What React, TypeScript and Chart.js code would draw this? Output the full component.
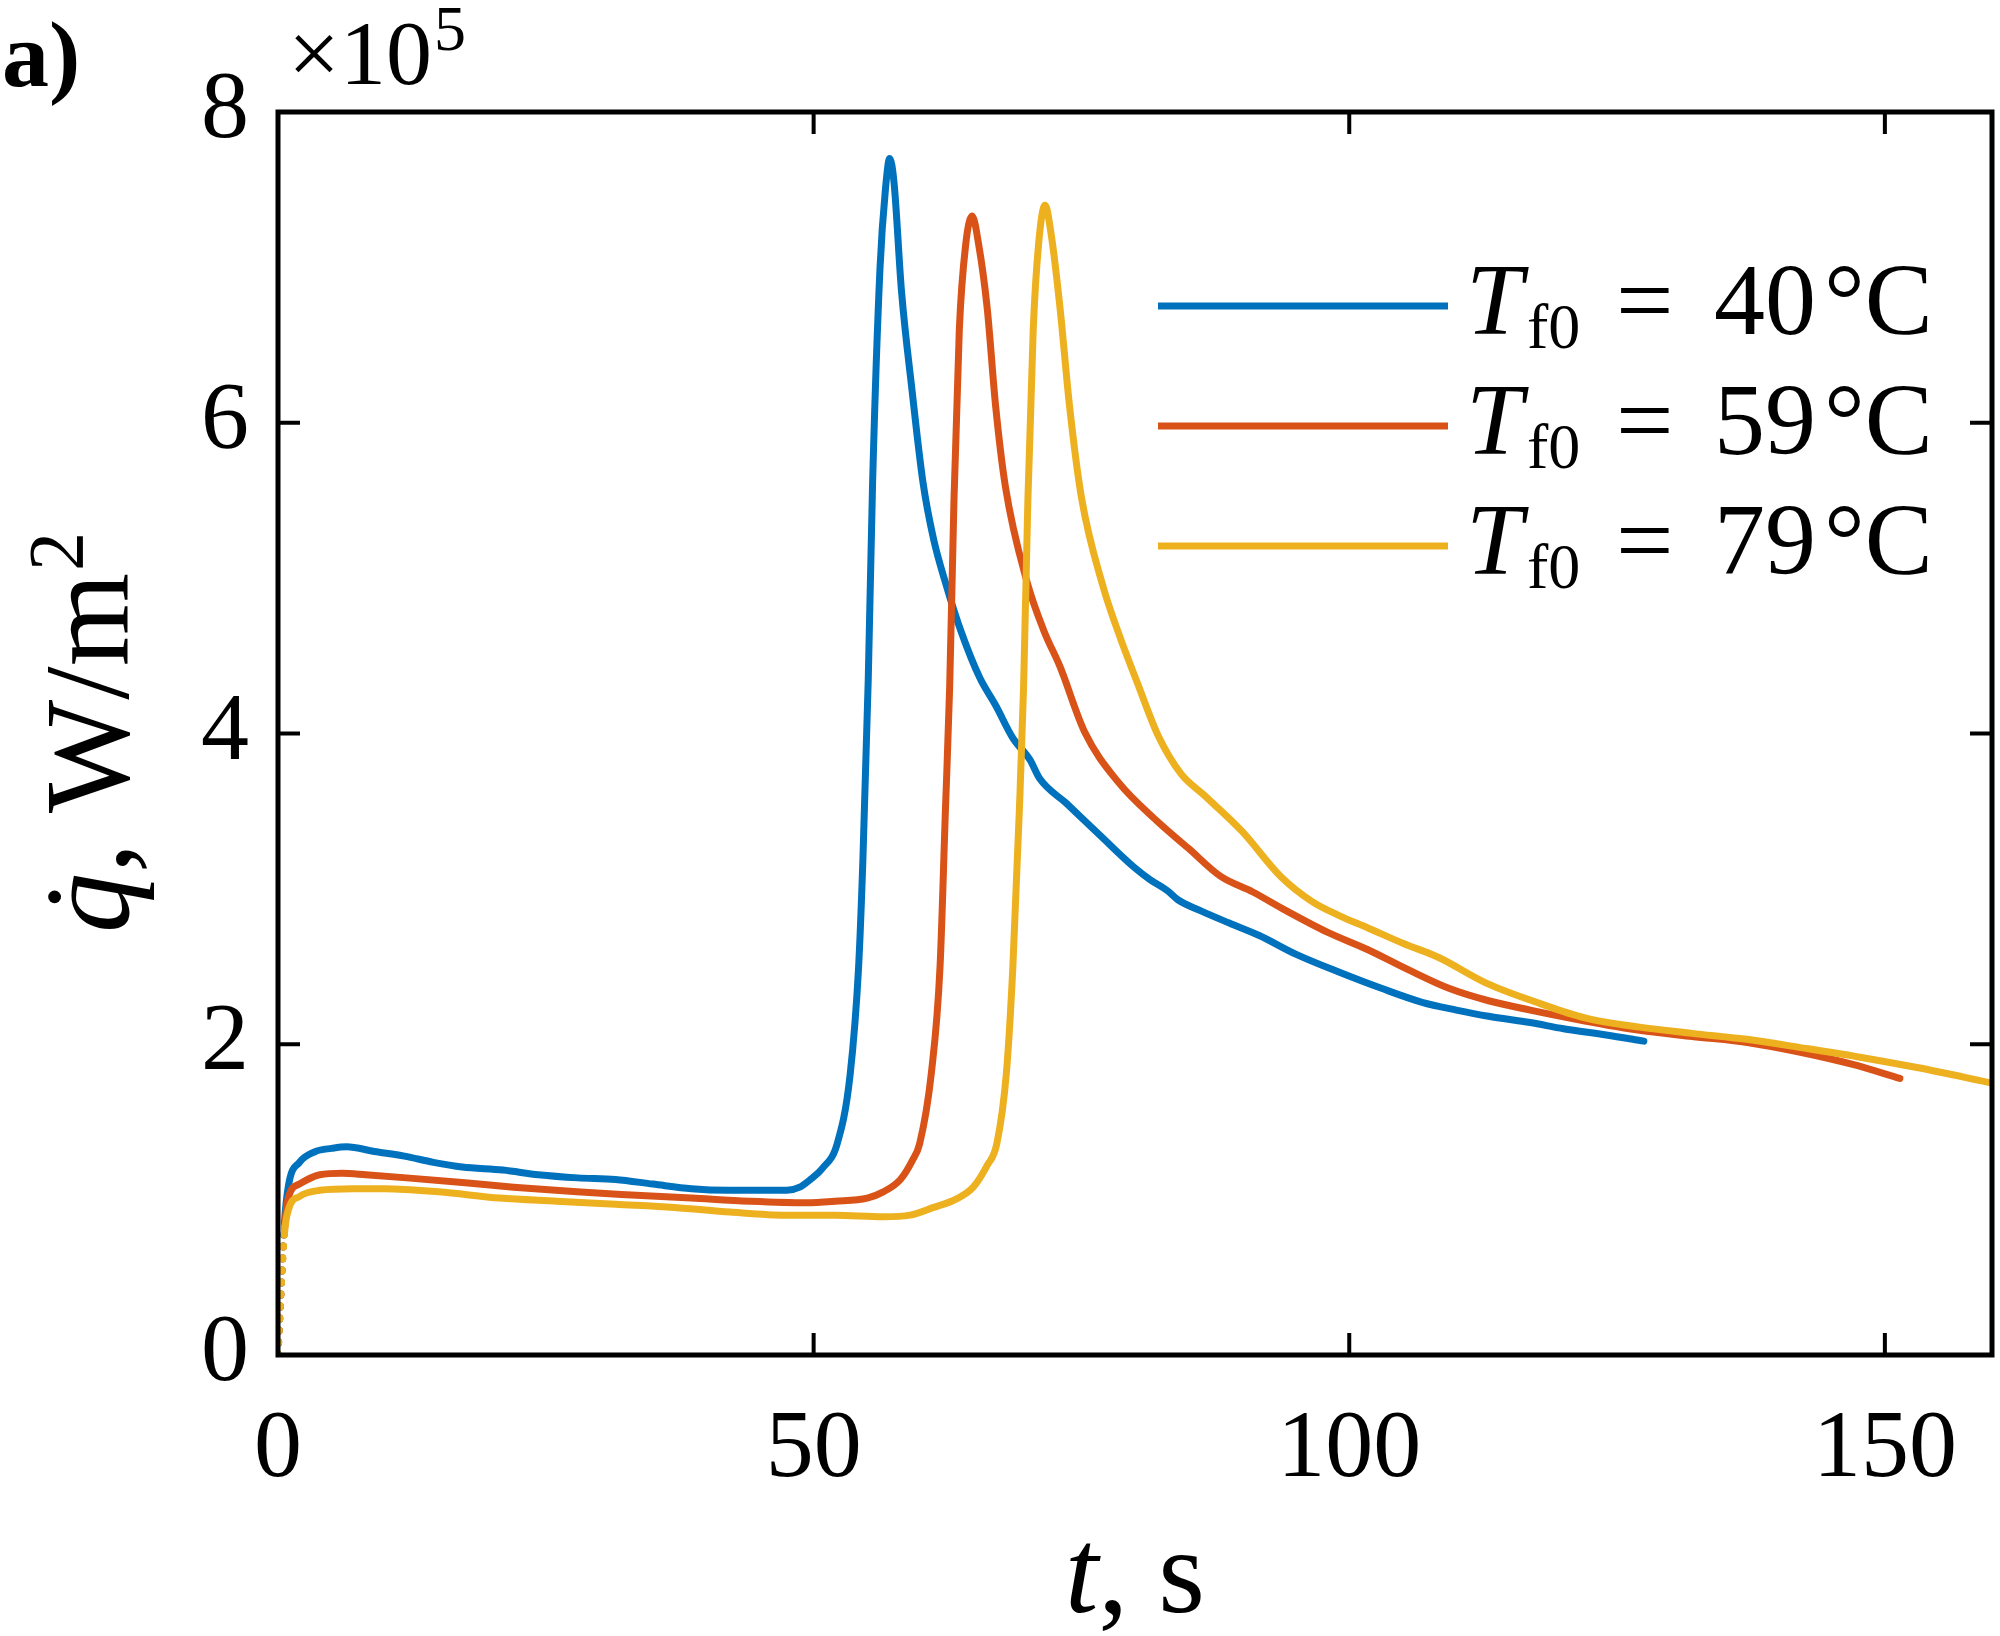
import React, { useEffect, useRef } from 'react';
import { Chart, registerables } from 'chart.js';

Chart.register(...registerables);

// ---------------- data (q in units of 1e5 W/m^2, t in s) ----------------
const t40 = [0, 0.6, 1.0, 2.0, 3.5, 5.0, 6.4, 9.0, 11.8, 14.5, 17.2, 21.0, 24.3, 28.0, 31.5, 35.0, 38.6, 42.0, 45.8, 47.5, 48.7, 49.7, 50.8, 52.2, 53.4, 54.2, 54.6, 55.1, 55.5, 56.2, 56.7, 57.1, 57.5, 58.2, 59.2, 60.2, 61.2, 62.4, 63.8, 65.5, 67.0, 68.6, 70.2, 71.1, 73.6, 76.8, 79.9, 81.4, 83.0, 84.0, 86.1, 88.8, 91.6, 95.0, 99.2, 103.0, 106.8, 110.0, 113.0, 116.9, 120.0, 124.0, 127.5];
const q40 = [0, 0.85, 1.10, 1.24, 1.31, 1.33, 1.34, 1.31, 1.28, 1.24, 1.21, 1.19, 1.16, 1.14, 1.13, 1.10, 1.07, 1.06, 1.06, 1.06, 1.08, 1.13, 1.20, 1.36, 1.80, 2.50, 3.19, 4.35, 5.60, 7.00, 7.50, 7.70, 7.55, 6.85, 6.20, 5.62, 5.25, 4.95, 4.65, 4.36, 4.18, 3.97, 3.83, 3.71, 3.55, 3.34, 3.14, 3.06, 2.99, 2.93, 2.86, 2.78, 2.70, 2.58, 2.46, 2.36, 2.27, 2.22, 2.18, 2.14, 2.10, 2.06, 2.02];

const t59 = [0, 0.6, 1.0, 2.0, 3.9, 6.0, 8.2, 12.0, 17.2, 22.0, 27.9, 33.0, 38.6, 44.0, 49.3, 52.0, 55.0, 56.5, 58.1, 59.2, 59.9, 61.0, 61.8, 62.3, 62.7, 63.1, 63.6, 64.2, 64.8, 65.4, 66.2, 67.0, 67.9, 69.9, 71.5, 73.0, 75.3, 78.4, 82.0, 85.0, 88.0, 91.0, 94.1, 98.0, 101.7, 105.5, 109.3, 113.0, 116.9, 122.0, 127.1, 132.0, 137.3, 142.0, 147.0, 151.4];
const q59 = [0, 0.80, 1.02, 1.10, 1.16, 1.17, 1.16, 1.14, 1.11, 1.08, 1.05, 1.03, 1.01, 0.99, 0.98, 0.99, 1.01, 1.05, 1.13, 1.25, 1.36, 1.82, 2.50, 3.50, 4.30, 5.50, 6.60, 7.15, 7.33, 7.15, 6.74, 6.10, 5.59, 4.98, 4.66, 4.43, 4.01, 3.69, 3.44, 3.26, 3.08, 2.98, 2.86, 2.72, 2.61, 2.48, 2.36, 2.28, 2.22, 2.15, 2.09, 2.05, 2.01, 1.95, 1.87, 1.78];

const t79 = [0, 0.6, 1.0, 2.0, 3.9, 7.0, 10.0, 15.0, 20.7, 26.0, 31.5, 37.0, 42.2, 47.5, 52.0, 56.5, 59.0, 61.2, 63.2, 64.9, 66.2, 67.1, 68.0, 68.6, 69.2, 69.6, 70.0, 70.5, 71.0, 71.6, 72.2, 73.0, 73.9, 75.0, 77.0, 78.6, 80.2, 82.2, 84.3, 86.5, 90.0, 93.6, 96.5, 99.0, 101.7, 105.0, 108.3, 112.9, 117.9, 122.0, 127.1, 132.0, 137.3, 142.0, 147.4, 153.0, 160.0];
const q79 = [0, 0.78, 0.94, 1.02, 1.06, 1.07, 1.07, 1.05, 1.01, 0.99, 0.97, 0.95, 0.92, 0.90, 0.90, 0.89, 0.90, 0.95, 1.00, 1.08, 1.22, 1.36, 1.82, 2.50, 3.50, 4.30, 5.50, 6.60, 7.15, 7.40, 7.20, 6.74, 6.10, 5.52, 4.95, 4.62, 4.33, 3.98, 3.74, 3.60, 3.37, 3.08, 2.92, 2.83, 2.75, 2.65, 2.56, 2.39, 2.26, 2.17, 2.11, 2.07, 2.03, 1.98, 1.92, 1.85, 1.75];

const seriesTemps = ['40', '59', '79'];
const seriesColors = ['#0072BD', '#D95319', '#EDB120'];

const xMin = 0;
const xMax = 160;
const xStep = 50;
const yMin = 0;
const yMax = 8;
const yStep = 2;
const yExponent = '5';

// ---------------- styling ----------------
const FONT = "'Liberation Serif', 'Times New Roman', serif";
const TICK_FONT = 96;
const TITLE_FONT = 120;
const LINE_W = 7;

const zip = (t: number[], q: number[]) => t.map((x, i) => ({ x, y: q[i] }));

const bgPlugin = {
  id: 'bg',
  beforeDraw(chart: any) {
    const { ctx, width, height } = chart;
    ctx.save();
    ctx.fillStyle = '#ffffff';
    ctx.fillRect(0, 0, width, height);
    ctx.restore();
  },
};

const framePlugin = {
  id: 'frame',
  afterDatasetsDraw(chart: any) {
    const { ctx, chartArea } = chart;
    const { left, right, top, bottom } = chartArea;
    const xs = chart.scales.x;
    const ys = chart.scales.y;
    const TL = 22;
    ctx.save();
    ctx.strokeStyle = '#000';
    ctx.lineCap = 'butt';
    ctx.lineWidth = 4;
    ctx.beginPath();
    xs.ticks.forEach((tk: any) => {
      const px = xs.getPixelForValue(tk.value);
      ctx.moveTo(px, bottom);
      ctx.lineTo(px, bottom - TL);
      ctx.moveTo(px, top);
      ctx.lineTo(px, top + TL);
    });
    ys.ticks.forEach((tk: any) => {
      const py = ys.getPixelForValue(tk.value);
      ctx.moveTo(left, py);
      ctx.lineTo(left + TL, py);
      ctx.moveTo(right, py);
      ctx.lineTo(right - TL, py);
    });
    ctx.stroke();
    ctx.lineWidth = 5;
    ctx.strokeRect(left, top, right - left, bottom - top);
    ctx.restore();
  },
};

const textPlugin = {
  id: 'texts',
  afterDraw(chart: any) {
    const { ctx, chartArea } = chart;
    const { left, right, top, bottom } = chartArea;
    ctx.save();
    ctx.fillStyle = '#000';
    ctx.textAlign = 'left';
    ctx.textBaseline = 'alphabetic';

    // panel label
    ctx.font = `bold 94px ${FONT}`;
    ctx.fillText('a)', 2, 86);

    // exponent
    ctx.font = `92px ${FONT}`;
    ctx.fillText('×10', left + 10, 84);
    const wx = ctx.measureText('×10').width;
    ctx.font = `64px ${FONT}`;
    ctx.fillText(yExponent, left + 10 + wx + 2, 50);

    // x title: "t, s"
    {
      ctx.font = `italic ${TITLE_FONT}px ${FONT}`;
      const w1 = ctx.measureText('t').width;
      ctx.font = `${TITLE_FONT}px ${FONT}`;
      const w2 = ctx.measureText(', s').width;
      const cx = (left + right) / 2;
      const x0 = cx - (w1 + w2) / 2;
      const by = 1612;
      ctx.font = `italic ${TITLE_FONT}px ${FONT}`;
      ctx.fillText('t', x0, by);
      ctx.font = `${TITLE_FONT}px ${FONT}`;
      ctx.fillText(', s', x0 + w1, by);
    }

    // y title: "q̇, W/m²"
    {
      ctx.save();
      ctx.translate(128, (top + bottom) / 2);
      ctx.rotate(-Math.PI / 2);
      ctx.font = `italic ${TITLE_FONT}px ${FONT}`;
      const w1 = ctx.measureText('q').width;
      ctx.font = `${TITLE_FONT}px ${FONT}`;
      const w2 = ctx.measureText(', W/m').width;
      ctx.font = `78px ${FONT}`;
      const w3 = ctx.measureText('2').width;
      const x0 = -(w1 + w2 + w3) / 2;
      ctx.font = `italic ${TITLE_FONT}px ${FONT}`;
      ctx.fillText('q', x0, 0);
      ctx.font = `${TITLE_FONT}px ${FONT}`;
      ctx.textAlign = 'center';
      ctx.fillText('\u02D9', x0 + w1 * 0.6, 0);
      ctx.textAlign = 'left';
      ctx.fillText(', W/m', x0 + w1, 0);
      ctx.font = `78px ${FONT}`;
      ctx.fillText('2', x0 + w1 + w2 + 2, -46);
      ctx.restore();
    }

    // legend
    const lx0 = 1158;
    const lx1 = 1448;
    const ly0 = 306;
    const lgap = 120;
    seriesTemps.forEach((temp, i) => {
      const ly = ly0 + i * lgap;
      ctx.strokeStyle = seriesColors[i];
      ctx.lineWidth = LINE_W;
      ctx.lineCap = 'butt';
      ctx.beginPath();
      ctx.moveTo(lx0, ly);
      ctx.lineTo(lx1, ly);
      ctx.stroke();
      const b = ly + 28;
      ctx.font = `italic 102px ${FONT}`;
      ctx.fillText('T', 1466, b);
      ctx.font = `64px ${FONT}`;
      ctx.fillText('f0', 1527, b + 14);
      ctx.font = `102px ${FONT}`;
      ctx.fillText('=', 1616, b);
      ctx.fillText(temp, 1714, b);
      ctx.fillText('°C', 1824, b);
    });

    ctx.restore();
  },
};

export default function App() {
  const ref = useRef<HTMLCanvasElement>(null);

  useEffect(() => {
    const canvas = ref.current;
    if (!canvas) return;
    const mk = (t: number[], q: number[], i: number, order: number) => ({
      label: `T_f0 = ${seriesTemps[i]} °C`,
      data: zip(t, q),
      borderColor: seriesColors[i],
      backgroundColor: seriesColors[i],
      borderWidth: LINE_W,
      pointRadius: 0,
      fill: false,
      order,
      cubicInterpolationMode: 'monotone' as const,
      borderCapStyle: 'round' as const,
      borderJoinStyle: 'round' as const,
      segment: {
        borderDash: (c: any) => (c.p0DataIndex === 0 ? [1, 11] : undefined),
      },
    });

    const chart = new Chart(canvas, {
      type: 'line',
      data: {
        datasets: [mk(t40, q40, 0, 2), mk(t59, q59, 1, 1), mk(t79, q79, 2, 0)],
      },
      options: {
        animation: false,
        responsive: false,
        devicePixelRatio: 1,
        layout: { padding: { left: 0, top: 112, right: 8, bottom: 0 } },
        plugins: {
          legend: { display: false },
          tooltip: { enabled: false },
          title: { display: false },
        },
        scales: {
          x: {
            type: 'linear',
            min: xMin,
            max: xMax,
            grid: { display: false, drawTicks: false },
            border: { display: false },
            ticks: {
              stepSize: xStep,
              includeBounds: false,
              autoSkip: false,
              maxRotation: 0,
              padding: 38,
              color: '#000',
              font: { family: FONT, size: TICK_FONT },
            },
            afterFit: (s: any) => {
              s.height = 281;
            },
          },
          y: {
            type: 'linear',
            min: yMin,
            max: yMax,
            grid: { display: false, drawTicks: false },
            border: { display: false },
            ticks: {
              stepSize: yStep,
              padding: 29,
              color: '#000',
              font: { family: FONT, size: TICK_FONT },
            },
            afterFit: (s: any) => {
              s.width = 278;
            },
          },
        },
      },
      plugins: [bgPlugin, framePlugin, textPlugin],
    } as any);

    return () => chart.destroy();
  }, []);

  return (
    <div style={{ position: 'absolute', left: 0, top: 0, width: 2000, height: 1636, background: '#fff' }}>
      <canvas ref={ref} width={2000} height={1636} style={{ display: 'block', width: 2000, height: 1636 }} />
    </div>
  );
}
